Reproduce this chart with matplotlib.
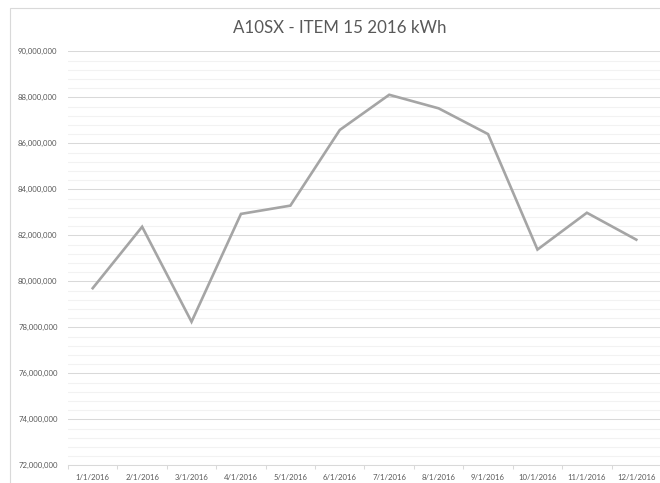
import matplotlib
matplotlib.use("Agg")
import matplotlib.pyplot as plt
from matplotlib.ticker import MultipleLocator, FuncFormatter
from matplotlib.patches import Rectangle

months = ["1/1/2016", "2/1/2016", "3/1/2016", "4/1/2016", "5/1/2016", "6/1/2016",
          "7/1/2016", "8/1/2016", "9/1/2016", "10/1/2016", "11/1/2016", "12/1/2016"]
kwh = [79.70e6, 82.37e6, 78.24e6, 82.93e6, 83.29e6, 86.58e6,
       88.11e6, 87.52e6, 86.40e6, 81.38e6, 82.98e6, 81.81e6]
title = "A10SX - ITEM 15 2016 kWh"

W, H = 660, 483
plt.rcParams['font.family'] = ['Lato', 'DejaVu Sans']
fig = plt.figure(figsize=(W / 100, H / 100), dpi=100)

# chart border
fig.add_artist(Rectangle((10 / W, -0.1), 1.2, 1 - 8.5 / H + 0.1, transform=fig.transFigure,
                         fill=False, edgecolor="#d9d9d9", linewidth=0.8))

left, right, top, bottom = 68, 661, 51.3, 465.3
ax = fig.add_axes([left / W, 1 - bottom / H, (right - left) / W, (bottom - top) / H])

x = list(range(len(months)))
ax.plot(x, kwh, color="#a5a5a5", linewidth=1.9, solid_joinstyle="miter", zorder=3)

ax.set_xlim(-0.5, len(months) - 0.5)
ax.set_ylim(72e6, 90e6)
ax.yaxis.set_major_locator(MultipleLocator(2e6))
ax.yaxis.set_minor_locator(MultipleLocator(0.4e6))
ax.yaxis.set_major_formatter(FuncFormatter(lambda v, p: f"{int(round(v)):,}"))
ax.grid(axis="y", which="major", color="#d9d9d9", linewidth=0.75)
ax.grid(axis="y", which="minor", color="#f2f2f2", linewidth=0.75)
ax.set_axisbelow(True)
ax.tick_params(axis="y", which="both", length=0, pad=7.5, labelsize=5.6, labelcolor="#595959")

# x: boundaries as major ticks (tick marks), labels as minor ticks
ax.set_xticks([i - 0.5 for i in range(len(months) + 1)])
ax.set_xticklabels([])
ax.set_xticks(x, months, minor=True)
ax.tick_params(axis="x", which="major", length=3, color="#d9d9d9", width=0.75, direction="out")
ax.tick_params(axis="x", which="minor", length=0, pad=6, labelsize=5.6, labelcolor="#595959")

for s in ["top", "right", "left"]:
    ax.spines[s].set_visible(False)
ax.spines["bottom"].set_color("#d9d9d9")
ax.spines["bottom"].set_linewidth(0.75)

fig.text(340 / W, 1 - 28 / H, title, ha="center", va="center", fontsize=12.2, color="#595959")

fig.savefig("out.png", dpi=100)
